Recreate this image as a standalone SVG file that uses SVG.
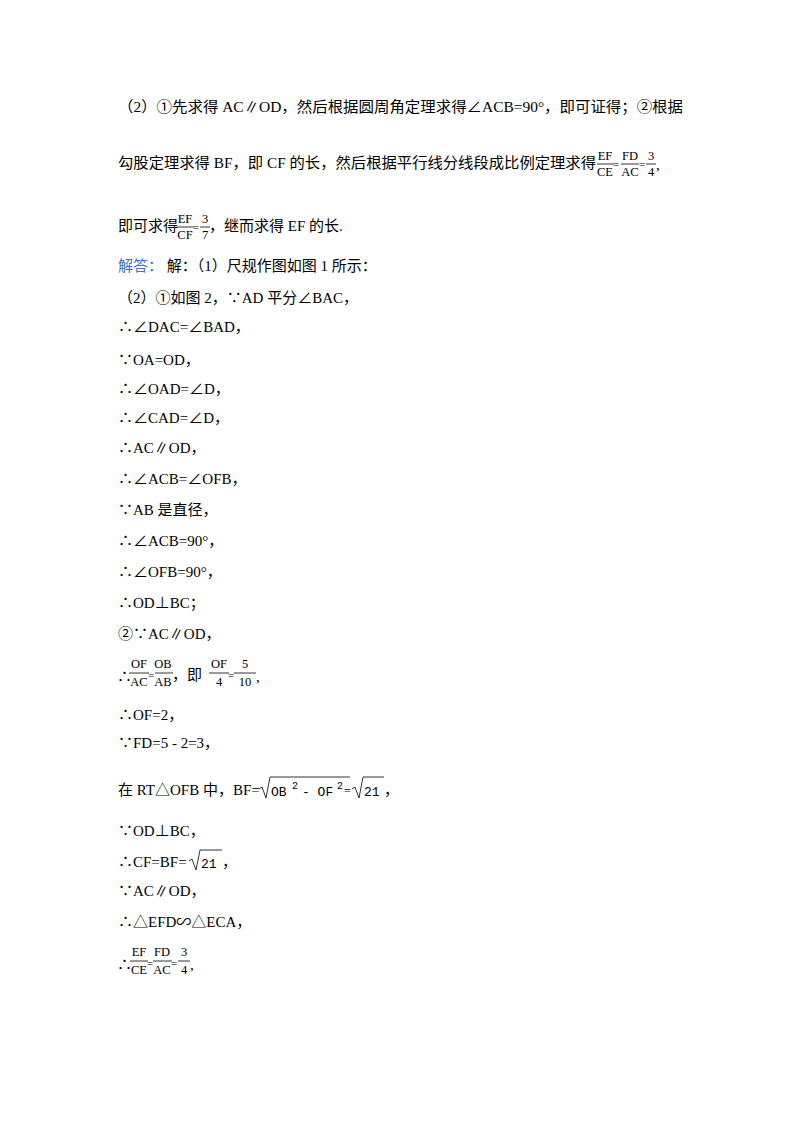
<svg xmlns="http://www.w3.org/2000/svg" width="800" height="1132" viewBox="0 0 800 1132">
<style>
text{font-family:"Liberation Serif","Noto Sans CJK SC",serif;font-size:15px;fill:#000}
.f{font-size:12.5px;text-anchor:middle}
.m{font-family:"Liberation Mono","Noto Sans CJK SC",monospace;font-size:13px}
.b{fill:#3b6fd1}
line,path{stroke:#000;stroke-width:0.8;fill:none}
</style>
<rect width="800" height="1132" fill="#fff"/>
<g id="text">
<text x="118" y="112" textLength="565" lengthAdjust="spacingAndGlyphs">（2）①先求得 AC∥OD，然后根据圆周角定理求得∠ACB=90°，即可证得；②根据</text>
<text x="118" y="168" textLength="478" lengthAdjust="spacingAndGlyphs">勾股定理求得 BF，即 CF 的长，然后根据平行线分线段成比例定理求得</text>
<g id="frac1">
<text class="f" x="605" y="160">EF</text><line x1="597" y1="164" x2="614" y2="164"/><text class="f" x="605" y="176">CE</text>
<text x="613" y="168" style="font-size:11px">=</text>
<text class="f" x="630" y="160">FD</text><line x1="621" y1="164" x2="639" y2="164"/><text class="f" x="630" y="176">AC</text>
<text x="639" y="168" style="font-size:11px">=</text>
<text class="f" x="651" y="160">3</text><line x1="646" y1="164" x2="656" y2="164"/><text class="f" x="651" y="176">4</text>
<text x="656" y="170">,</text>
</g>
<text x="118" y="231">即可求得</text>
<g id="frac2">
<text class="f" x="185" y="223">EF</text><line x1="177" y1="227" x2="194" y2="227"/><text class="f" x="185" y="239">CF</text>
<text x="193" y="231" style="font-size:11px">=</text>
<text class="f" x="205" y="223">3</text><line x1="200" y1="227" x2="210" y2="227"/><text class="f" x="205" y="239">7</text>
</g>
<text x="209" y="231">，继而求得 EF 的长.</text>
<text x="118" y="271"><tspan class="b">解答：</tspan> 解：（1）尺规作图如图 1 所示：</text>
<text x="118" y="303">（2）①如图 2，∵AD 平分∠BAC，</text>
<text x="118" y="332">∴∠DAC=∠BAD，</text>
<text x="118" y="365">∵OA=OD，</text>
<text x="118" y="394">∴∠OAD=∠D，</text>
<text x="118" y="423">∴∠CAD=∠D，</text>
<text x="118" y="453">∴AC∥OD，</text>
<text x="118" y="484">∴∠ACB=∠OFB，</text>
<text x="118" y="515">∵AB 是直径，</text>
<text x="118" y="546">∴∠ACB=90°，</text>
<text x="118" y="577">∴∠OFB=90°，</text>
<text x="118" y="608">∴OD⊥BC；</text>
<text x="118" y="639">②∵AC∥OD，</text>
<g id="frac3">
<text x="117" y="682">∴</text>
<text class="f" x="139" y="668">OF</text><line x1="129" y1="673" x2="149" y2="673"/><text class="f" x="139" y="686">AC</text>
<text x="148" y="679" style="font-size:11px">=</text>
<text class="f" x="163" y="668">OB</text><line x1="155" y1="673" x2="173" y2="673"/><text class="f" x="163" y="686">AB</text>
<text x="172" y="680">，即</text>
<text class="f" x="219" y="668">OF</text><line x1="209" y1="673" x2="229" y2="673"/><text class="f" x="219" y="686">4</text>
<text x="228" y="679" style="font-size:11px">=</text>
<text class="f" x="245" y="668">5</text><line x1="234" y1="673" x2="256" y2="673"/><text class="f" x="245" y="686">10</text>
<text x="256" y="682">,</text>
</g>
<text x="118" y="720">∴OF=2，</text>
<text x="118" y="748">∵FD=5 - 2=3，</text>
<g id="sqrt1">
<text x="118" y="795">在 RT△OFB 中，BF=</text>
<path d="M259,789 L262,787 L266,798 L270,777 L350,777"/>
<text class="m" x="271" y="796">OB</text><text class="m" x="292" y="789" style="font-size:10px">2</text>
<text class="m" x="302" y="796">- OF</text><text class="m" x="337" y="789" style="font-size:10px">2</text>
<text x="344" y="795" style="font-size:12px">=</text>
<path d="M352,789 L355,787 L359,798 L363,777 L384,777"/>
<text class="m" x="364" y="796">21</text>
<text x="384" y="795">，</text>
</g>
<text x="118" y="836">∵OD⊥BC，</text>
<g id="sqrt2">
<text x="118" y="867">∴CF=BF=</text>
<path d="M189,861 L192,859 L196,870 L200,850 L222,850"/>
<text class="m" x="201" y="868">21</text>
<text x="222" y="867">，</text>
</g>
<text x="118" y="896">∵AC∥OD，</text>
<text x="118" y="927">∴△EFD∽△ECA，</text>
<g id="frac4">
<text x="117" y="970">∴</text>
<text class="f" x="139" y="956">EF</text><line x1="130" y1="961" x2="148" y2="961"/><text class="f" x="139" y="974">CE</text>
<text x="147" y="967" style="font-size:11px">=</text>
<text class="f" x="162" y="956">FD</text><line x1="153" y1="961" x2="172" y2="961"/><text class="f" x="162" y="974">AC</text>
<text x="171" y="967" style="font-size:11px">=</text>
<text class="f" x="184" y="956">3</text><line x1="178" y1="961" x2="190" y2="961"/><text class="f" x="184" y="974">4</text>
<text x="190" y="970">,</text>
</g>
</g>
</svg>
